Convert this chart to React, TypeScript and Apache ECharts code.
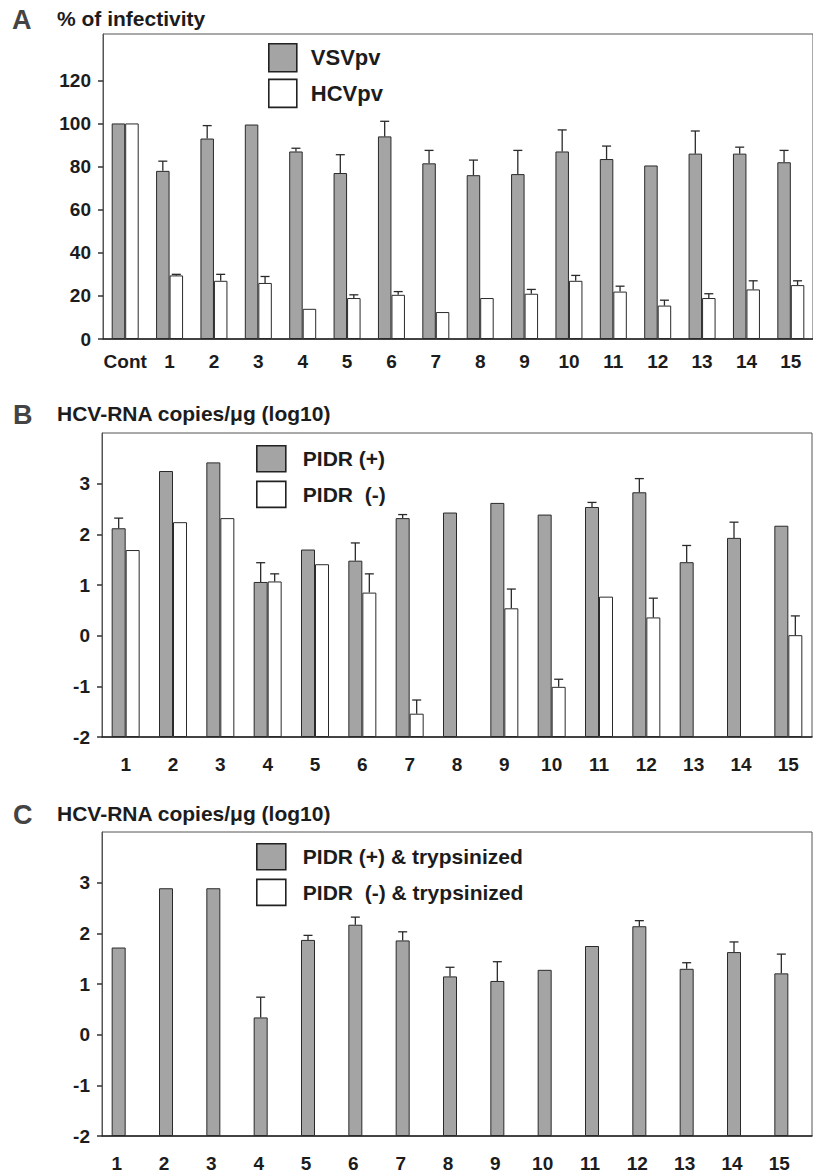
import React, { useEffect, useRef } from "react";
import * as echarts from "echarts";

// ---- Panel A data ----
const CATS_A = ["Cont", "1", "2", "3", "4", "5", "6", "7", "8", "9", "10", "11", "12", "13", "14", "15"];
const VSV = [100, 78, 93, 99.5, 87, 77, 94, 81.5, 76, 76.5, 87, 83.5, 80.5, 86, 86, 82];
const VSV_ERR = [0, 4.5, 6, 0, 1.5, 8.5, 7, 6, 7, 11, 10, 6, 0, 10.5, 3, 5.5];
const HCV = [100, 29.5, 27, 26, 14, 19, 20.5, 12.5, 19, 21, 27, 22, 15.5, 19, 23, 25];
const HCV_ERR = [0, 0.5, 3, 3, 0, 1.5, 1.5, 0, 0, 2, 2.5, 2.5, 2.5, 2, 4, 2];
const TICKS_A = [0, 20, 40, 60, 80, 100, 120];

// ---- Panel B data ----
const CATS_BC = ["1", "2", "3", "4", "5", "6", "7", "8", "9", "10", "11", "12", "13", "14", "15"];
const PIDR_POS = [2.12, 3.25, 3.42, 1.06, 1.7, 1.48, 2.32, 2.43, 2.62, 2.39, 2.54, 2.83, 1.45, 1.93, 2.17];
const PIDR_POS_ERR = [0.2, 0, 0, 0.38, 0, 0.35, 0.07, 0, 0, 0, 0.09, 0.27, 0.33, 0.31, 0];
const PIDR_NEG = [1.69, 2.24, 2.32, 1.07, 1.41, 0.85, -1.54, null, 0.54, -1.01, 0.77, 0.36, null, null, 0.01];
const PIDR_NEG_ERR = [0, 0, 0, 0.15, 0, 0.37, 0.27, 0, 0.38, 0.15, 0, 0.38, 0, 0, 0.38];

// ---- Panel C data ----
const PIDR_POS_T = [1.72, 2.89, 2.89, 0.34, 1.87, 2.17, 1.86, 1.15, 1.06, 1.28, 1.75, 2.14, 1.3, 1.63, 1.21];
const PIDR_POS_T_ERR = [0, 0, 0, 0.4, 0.09, 0.15, 0.17, 0.18, 0.38, 0, 0, 0.11, 0.12, 0.2, 0.38];
const PIDR_NEG_T = [null, null, null, null, null, null, null, null, null, null, null, null, null, null, null];
const TICKS_BC = [-2, -1, 0, 1, 2, 3];

const FONT = "'Liberation Sans', Arial, Helvetica, sans-serif";
const INK = "#1c1c1c";
const GRAY = "#a4a4a4";

export default function App() {
  const ref = useRef<HTMLDivElement>(null);

  useEffect(() => {
    if (!ref.current) return;
    const chart = echarts.init(ref.current, null, { renderer: "svg" });

    const errSeries = (gi: number, vals: (number | null)[], errs: number[], off: number) => ({
      type: "custom",
      xAxisIndex: gi,
      yAxisIndex: gi,
      z: 5,
      silent: true,
      data: vals
        .map((v, i) => (v == null || !errs[i] ? null : [i, v, errs[i], off]))
        .filter((d) => d !== null),
      renderItem: (_p: any, api: any) => {
        const i = api.value(0);
        const v = api.value(1);
        const e = api.value(2);
        const o = api.value(3);
        const p0 = api.coord([i, v]);
        const p1 = api.coord([i, v + e]);
        const x = p0[0] + o;
        const st = { stroke: "#2a2a2a", lineWidth: 1.3 };
        return {
          type: "group",
          children: [
            { type: "line", shape: { x1: x, y1: p0[1], x2: x, y2: p1[1] }, style: st },
            { type: "line", shape: { x1: x - 4.5, y1: p1[1], x2: x + 4.5, y2: p1[1] }, style: st },
          ],
        };
      },
    });

    const grayStyle = { color: GRAY, borderColor: "#2a2a2a", borderWidth: 1 };
    const whiteStyle = { color: "#ffffff", borderColor: "#2a2a2a", borderWidth: 1 };

    const yAxisCommon = {
      type: "value",
      splitLine: { show: false },
      axisLine: { show: true, lineStyle: { color: "#555", width: 1 } },
      axisTick: { show: true, inside: false, length: 5, lineStyle: { color: "#333", width: 1.5 } },
      axisLabel: { color: INK, fontSize: 19, fontWeight: "bold", fontFamily: FONT, margin: 12 },
    };

    const xAxisCommon = (gi: number, data: string[], margin: number, padding: number[]) => ({
      type: "category",
      gridIndex: gi,
      data,
      axisTick: { show: false },
      axisLine: { show: true, onZero: false, lineStyle: { color: "#222", width: 1.5 } },
      axisLabel: {
        color: INK,
        fontSize: 19,
        fontWeight: "bold",
        fontFamily: FONT,
        margin,
        interval: 0,
        padding,
      },
    });

    const legendCommon = (names: string[], left: number, top: number, w: number, h: number, gap: number, fs: number, pad: number) => ({
      data: names,
      orient: "vertical",
      left,
      top,
      padding: 0,
      itemWidth: w,
      itemHeight: h,
      itemGap: gap,
      icon: "rect",
      selectedMode: false,
      itemStyle: { borderColor: "#222", borderWidth: 1.6 },
      textStyle: { color: INK, fontSize: fs, fontWeight: "bold", fontFamily: FONT, padding: [0, 0, 0, pad] },
    });

    const textEl = (x: number, y: number, text: string, size: number, color: string) => ({
      type: "text",
      x,
      y,
      style: {
        text,
        fill: color,
        font: `bold ${size}px ${FONT}`,
        textVerticalAlign: "middle",
        verticalAlign: "middle",
      },
    });

    const option: any = {
      animation: false,
      backgroundColor: "#ffffff",
      grid: [
        { left: 103, top: 34, width: 712, height: 305, show: true, borderColor: "#555", borderWidth: 1 },
        { left: 102, top: 433, width: 710, height: 304, show: true, borderColor: "#555", borderWidth: 1 },
        { left: 102, top: 832, width: 710, height: 304, show: true, borderColor: "#555", borderWidth: 1 },
      ],
      xAxis: [
        xAxisCommon(0, CATS_A, 13, [0, 0, 0, 0]),
        xAxisCommon(1, CATS_BC, 18, [0, 0, 0, 0]),
        xAxisCommon(2, CATS_BC, 18, [0, 18, 0, 0]),
      ],
      yAxis: [
        {
          ...yAxisCommon,
          gridIndex: 0,
          min: 0,
          max: 141.5,
          axisTick: { ...yAxisCommon.axisTick, customValues: TICKS_A },
          axisLabel: { ...yAxisCommon.axisLabel, customValues: TICKS_A },
        },
        {
          ...yAxisCommon,
          gridIndex: 1,
          min: -2,
          max: 4,
          startValue: -2,
          axisTick: { ...yAxisCommon.axisTick, customValues: TICKS_BC },
          axisLabel: { ...yAxisCommon.axisLabel, customValues: TICKS_BC },
        },
        {
          ...yAxisCommon,
          gridIndex: 2,
          min: -2,
          max: 4,
          startValue: -2,
          axisTick: { ...yAxisCommon.axisTick, customValues: TICKS_BC },
          axisLabel: { ...yAxisCommon.axisLabel, customValues: TICKS_BC },
        },
      ],
      legend: [
        legendCommon(["VSVpv", "HCVpv"], 268, 43, 28, 28, 6, 22, 9),
        legendCommon(["PIDR (+)", "PIDR  (-)"], 256, 445, 29, 26, 8, 21, 12),
        legendCommon(["PIDR (+) & trypsinized", "PIDR  (-) & trypsinized"], 256, 843, 29, 26, 8, 21, 12),
      ],
      series: [
        { type: "bar", name: "VSVpv", xAxisIndex: 0, yAxisIndex: 0, data: VSV, barWidth: 13.5, barGap: "0%", itemStyle: grayStyle },
        { type: "bar", name: "HCVpv", xAxisIndex: 0, yAxisIndex: 0, data: HCV, barWidth: 13.5, barGap: "0%", itemStyle: whiteStyle },
        errSeries(0, VSV, VSV_ERR, -6.75),
        errSeries(0, HCV, HCV_ERR, 6.75),

        { type: "bar", name: "PIDR (+)", xAxisIndex: 1, yAxisIndex: 1, data: PIDR_POS, barWidth: 14, barGap: "0%", itemStyle: grayStyle },
        { type: "bar", name: "PIDR  (-)", xAxisIndex: 1, yAxisIndex: 1, data: PIDR_NEG, barWidth: 14, barGap: "0%", itemStyle: whiteStyle },
        errSeries(1, PIDR_POS, PIDR_POS_ERR, -7),
        errSeries(1, PIDR_NEG, PIDR_NEG_ERR, 7),

        { type: "bar", name: "PIDR (+) & trypsinized", xAxisIndex: 2, yAxisIndex: 2, data: PIDR_POS_T, barWidth: 14, barGap: "0%", itemStyle: grayStyle },
        { type: "bar", name: "PIDR  (-) & trypsinized", xAxisIndex: 2, yAxisIndex: 2, data: PIDR_NEG_T, barWidth: 14, barGap: "0%", itemStyle: whiteStyle },
        errSeries(2, PIDR_POS_T, PIDR_POS_T_ERR, -7),
      ],
      graphic: [
        textEl(12, 20, "A", 27, "#444"),
        textEl(57, 18, "% of infectivity", 21, INK),
        textEl(13, 415, "B", 27, "#444"),
        textEl(57, 413, "HCV-RNA copies/\u03bcg (log10)", 21, INK),
        textEl(13, 815, "C", 27, "#444"),
        textEl(57, 813, "HCV-RNA copies/\u03bcg (log10)", 21, INK),
      ],
    };

    chart.setOption(option);
    return () => chart.dispose();
  }, []);

  return (
    <div
      ref={ref}
      style={{ position: "absolute", left: 0, top: 0, width: 813, height: 1176, background: "#fff" }}
    />
  );
}
